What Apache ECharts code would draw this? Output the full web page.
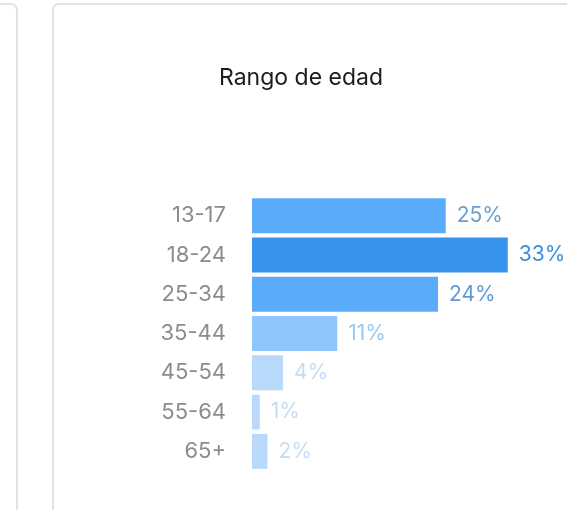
<!DOCTYPE html>
<html>
<head>
<meta charset="utf-8">
<script src="https://cdn.jsdelivr.net/npm/echarts@6/dist/echarts.min.js"></script>
<style>
  html, body { margin: 0; padding: 0; background: #fff; }
  #chart { width: 567px; height: 510px; }
</style>
</head>
<body>
<div id="chart"></div>
<script>
// age ranges + share of audience (%)
const ageRanges = ['13-17', '18-24', '25-34', '35-44', '45-54', '55-64', '65+'];
const shares = [25, 33, 24, 11, 4, 1, 2];

// bar / label colours per row
const barColors = ['#5aacfa', '#3893ec', '#5aacfa', '#8ec5fc', '#b8d9fb', '#b8d9fb', '#b8d9fb'];
const labelColors = ['#6a9fd2', '#3a8ee0', '#5f9ad6', '#9cc8f0', '#c6dcf2', '#c6dcf2', '#c6dcf2'];

const chart = echarts.init(document.getElementById('chart'));
const font = 'Inter, "Liberation Sans", Arial, sans-serif';

const option = {
  animation: false,
  backgroundColor: '#fff',
  graphic: [
    // card borders
    { type: 'rect', shape: { x: -600, y: 4, width: 617, height: 600, r: 6 },
      style: { fill: 'none', stroke: '#e2e2e2', lineWidth: 2 } },
    { type: 'rect', shape: { x: 53, y: 4, width: 600, height: 600, r: 6 },
      style: { fill: 'none', stroke: '#e2e2e2', lineWidth: 2 } }
  ],
  title: {
    text: 'Rango de edad',
    left: 296,
    top: 62,
    textAlign: 'center',
    textStyle: { fontFamily: font, fontSize: 23, fontWeight: 'normal', color: '#1c1c1c' }
  },
  grid: { left: 252, top: 196, width: 310, height: 275 },
  xAxis: {
    type: 'value',
    min: 0,
    max: 40,
    show: false
  },
  yAxis: {
    type: 'category',
    data: ageRanges,
    inverse: true,
    axisLine: { show: false },
    axisTick: { show: false },
    axisLabel: { fontFamily: font, fontSize: 22, color: '#8c8c8c', margin: 26 }
  },
  series: [{
    type: 'bar',
    barCategoryGap: '11%',
    data: shares.map((v, i) => ({
      value: v,
      itemStyle: { color: barColors[i] },
      label: { color: labelColors[i] }
    })),
    label: {
      show: true,
      position: 'right',
      distance: 11,
      formatter: '{c}%',
      fontFamily: font,
      fontSize: 21
    }
  }]
};

chart.setOption(option);
</script>
</body>
</html>
